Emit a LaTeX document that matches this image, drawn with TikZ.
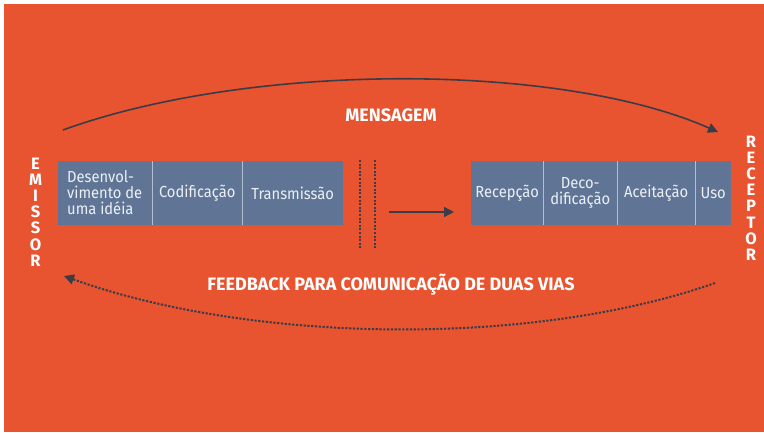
\documentclass[tikz,border=0pt]{standalone}
\usepackage{fontspec}
\setmainfont{Fira Sans}
\newfontfamily\cellfont[FakeStretch=0.92]{Fira Sans}
\usetikzlibrary{arrows.meta}
\definecolor{bgorange}{RGB}{232,84,47}
\definecolor{cellblue}{RGB}{96,117,150}
\definecolor{divline}{RGB}{178,190,205}
\definecolor{celltext}{RGB}{236,240,245}
\definecolor{arrowdark}{RGB}{60,60,72}
\tikzset{
  cell/.style={fill=cellblue, inner sep=0pt, minimum height=64pt, text=celltext,
    font=\cellfont\fontsize{16}{16}\selectfont, align=center, anchor=north west},
  divider/.style={draw=divline, line width=0.9pt},
  vertlabel/.style={text=white, font=\bfseries\fontsize{16.5}{16.2}\selectfont, align=center, inner sep=0pt},
  headlabel/.style={text=white, font=\bfseries\fontsize{18}{20}\selectfont, inner sep=0pt},
  msgarrow/.style={draw=arrowdark, line width=1.6pt, -{Triangle[length=10pt,width=10pt]}},
  fbarrow/.style={draw=arrowdark, line width=2pt, dash pattern=on 2.2pt off 1.6pt, -{Triangle[length=10pt,width=10pt]}},
  gapline/.style={draw=arrowdark, line width=1.3pt, dash pattern=on 2pt off 1.6pt}
}
\begin{document}
\begin{tikzpicture}[x=1pt, y=-1pt]
\useasboundingbox (0,0) rectangle (764,432);
\fill[bgorange] (4,4) rectangle (764,432);

% left group
\node[cell, minimum width=94pt] (c1) at (58,161) {};
\node[text=celltext, font=\cellfont\fontsize{16}{16}\selectfont, align=left, inner sep=0pt, anchor=west] (c1t) at (67,193) {Desenvol-\\vimento de\\uma idéia};
\node[cell, minimum width=90pt] (c2) at (152,161) {Codificação};
\node[cell, minimum width=101pt] (c3) at (242,161) {Transmissão};
% right group
\node[cell, minimum width=72pt] (d1) at (471,161) {Recepção};
\node[cell, minimum width=74pt] (d2) at (543,161) {Deco-\\dificação};
\node[cell, minimum width=78pt] (d3) at (617,161) {Aceitação};
\node[cell, minimum width=36pt] (d4) at (695,161) {Uso};

\foreach \n in {c1,c2,d1,d2,d3}
  \draw[divider] (\n.north east) -- (\n.south east);

% side labels
\node[vertlabel] (emissor) at (35.5,212) {E\\M\\I\\S\\S\\O\\R};
\node[vertlabel] (receptor) at (751,198) {R\\E\\C\\E\\P\\T\\O\\R};

% gap lines
\coordinate (g1a) at (360,160); \coordinate (g1b) at (360,249);
\coordinate (g2a) at (375,160); \coordinate (g2b) at (375,249);
\draw[gapline] (g1a) -- (g1b);
\draw[gapline] (g2a) -- (g2b);

% transmission arrow
\coordinate (ta) at (389,212);
\coordinate (tb) at (454,212);
\draw[msgarrow, line width=1.4pt] (ta) -- (tb);

% message arc
\node[headlabel] (msg) at (391,115) {MENSAGEM};
\coordinate (ms) at (63,130);
\coordinate (me) at (718,132);
\draw[msgarrow] (ms) .. controls (250,62) and (560,62) .. (me);

% feedback arc
\node[headlabel] (fb) at (391,285) {FEEDBACK PARA COMUNICAÇÃO DE DUAS VIAS};
\coordinate (fs) at (715,283);
\coordinate (fe) at (64,276);
\draw[fbarrow] (fs) .. controls (530,348) and (250,343) .. (fe);
\end{tikzpicture}
\end{document}
